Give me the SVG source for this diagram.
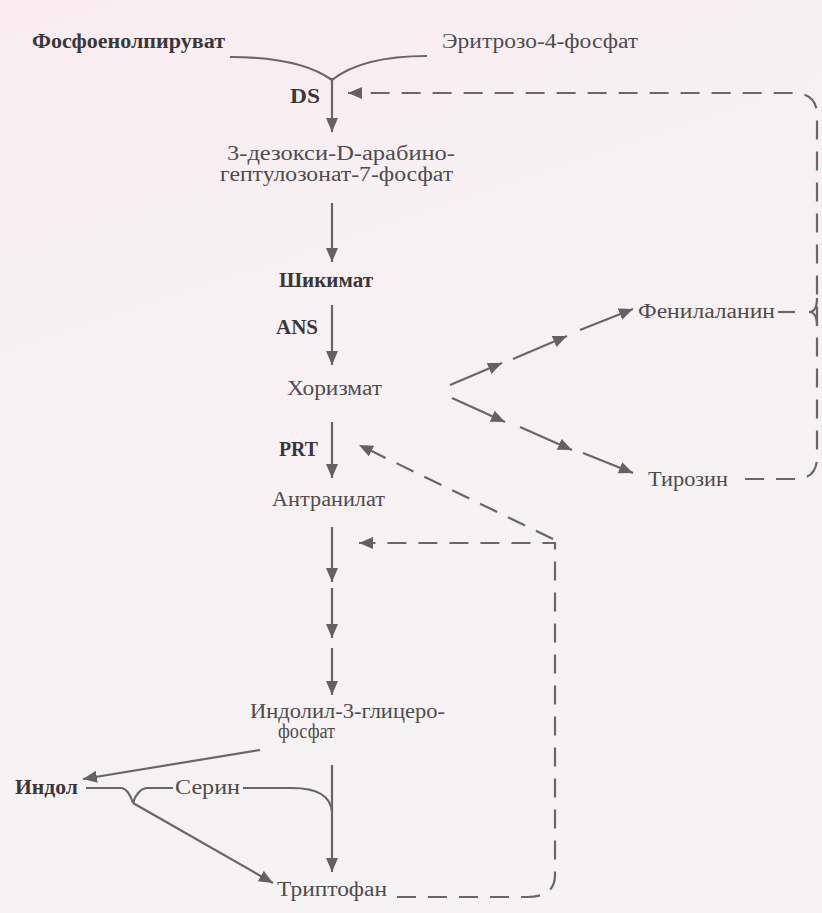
<svg xmlns="http://www.w3.org/2000/svg" width="822" height="913" viewBox="0 0 822 913">
<defs>
<linearGradient id="bg" x1="0" y1="0" x2="0.3" y2="1">
<stop offset="0" stop-color="#f9edf2"/>
<stop offset="0.5" stop-color="#f8f1f3"/>
<stop offset="1" stop-color="#f5f3f3"/>
</linearGradient>
<marker id="ah" markerUnits="userSpaceOnUse" markerWidth="16" markerHeight="14" refX="14" refY="6" orient="auto">
<path d="M0,0 L14,6 L0,12 Z" fill="#656063"/>
</marker>
</defs>
<style>
.t{font-family:"Liberation Serif","Times New Roman",serif;font-size:20px;fill:#4f4b4e}
.b{font-weight:bold;fill:#3a3639}
.s{fill:none;stroke:#6a6568;stroke-width:2.2}
.d{fill:none;stroke:#6a6568;stroke-width:2.2;stroke-dasharray:19 12}
</style>
<rect width="822" height="913" fill="url(#bg)"/>

<g id="connectors">
<path class="s" d="M230,57 Q300,57 332,80"/>
<path class="s" d="M427,56 Q362,56 332,80"/>
<path class="s" d="M332,78 L332,132" marker-end="url(#ah)"/>
<path class="s" d="M332,203 L332,262" marker-end="url(#ah)"/>
<path class="s" d="M332,305 L332,365" marker-end="url(#ah)"/>
<path class="s" d="M332,422 L332,478" marker-end="url(#ah)"/>
<path class="s" d="M332,527 L332,582" marker-end="url(#ah)"/>
<path class="s" d="M332,588 L332,638" marker-end="url(#ah)"/>
<path class="s" d="M332,648 L332,695" marker-end="url(#ah)"/>
<path class="s" d="M332,765 L332,872" marker-end="url(#ah)"/>
<path class="s" d="M450,385 L502,363" marker-end="url(#ah)"/>
<path class="s" d="M513,359 L567,336" marker-end="url(#ah)"/>
<path class="s" d="M580,330 L633,309" marker-end="url(#ah)"/>
<path class="s" d="M452,398 L505,422" marker-end="url(#ah)"/>
<path class="s" d="M520,427 L572,450" marker-end="url(#ah)"/>
<path class="s" d="M583,453 L633,473" marker-end="url(#ah)"/>
<path class="s" d="M260,750 L83,779" marker-end="url(#ah)"/>
<path class="s" d="M86,788 L122,788 Q129,790 133,803"/>
<path class="s" d="M173,788 L146,788 Q137,790 133,803"/>
<path class="s" d="M133,803 L273,883" marker-end="url(#ah)"/>
<path class="s" d="M243,788 L292,788 Q330,788 332,812"/>
<path class="d" d="M745,479 L795,479 Q817,479 817,457 L817,115 Q817,93 793,93 L348,93" marker-end="url(#ah)"/>
<path class="s" d="M778,312 L795,312"/>
<path class="s" d="M817,298 Q817,312 809,312 Q817,312 817,326"/>
<path class="d" d="M553,539 L359,445" marker-end="url(#ah)"/>
<path class="d" d="M397,897 L527,897 Q555,897 555,875 L555,543 L359,543" marker-end="url(#ah)"/>
</g>

<g id="n-pep"><text class="t b" x="32" y="48" textLength="193" lengthAdjust="spacingAndGlyphs">Фосфоенолпируват</text></g>
<g id="n-e4p"><text class="t" x="442" y="48" textLength="196" lengthAdjust="spacingAndGlyphs">Эритрозо-4-фосфат</text></g>
<g id="n-ds"><text class="t b" x="290" y="103" textLength="30" lengthAdjust="spacingAndGlyphs">DS</text></g>
<g id="n-dahp">
<text class="t" x="227" y="160" textLength="228" lengthAdjust="spacingAndGlyphs">3-дезокси-D-арабино-</text>
<text class="t" x="220" y="181" textLength="233" lengthAdjust="spacingAndGlyphs">гептулозонат-7-фосфат</text>
</g>
<g id="n-shikimate"><text class="t b" x="279" y="287" textLength="94" lengthAdjust="spacingAndGlyphs">Шикимат</text></g>
<g id="n-ans"><text class="t b" x="276" y="334" textLength="42" lengthAdjust="spacingAndGlyphs">ANS</text></g>
<g id="n-chorismate"><text class="t" x="287" y="395" textLength="95" lengthAdjust="spacingAndGlyphs">Хоризмат</text></g>
<g id="n-prt"><text class="t b" x="279" y="456" textLength="39" lengthAdjust="spacingAndGlyphs">PRT</text></g>
<g id="n-anthranilate"><text class="t" x="272" y="506" textLength="113" lengthAdjust="spacingAndGlyphs">Антранилат</text></g>
<g id="n-phe"><text class="t" x="638" y="318" textLength="137" lengthAdjust="spacingAndGlyphs">Фенилаланин</text></g>
<g id="n-tyr"><text class="t" x="648" y="486" textLength="80" lengthAdjust="spacingAndGlyphs">Тирозин</text></g>
<g id="n-igp">
<text class="t" x="250" y="718" textLength="195" lengthAdjust="spacingAndGlyphs">Индолил-3-глицеро-</text>
<text class="t" x="278" y="738" textLength="57" lengthAdjust="spacingAndGlyphs">фосфат</text>
</g>
<g id="n-indole"><text class="t b" x="15" y="794" textLength="63" lengthAdjust="spacingAndGlyphs">Индол</text></g>
<g id="n-serine"><text class="t" x="175" y="794" textLength="65" lengthAdjust="spacingAndGlyphs">Серин</text></g>
<g id="n-trp"><text class="t" x="277" y="896" textLength="110" lengthAdjust="spacingAndGlyphs">Триптофан</text></g>
</svg>
